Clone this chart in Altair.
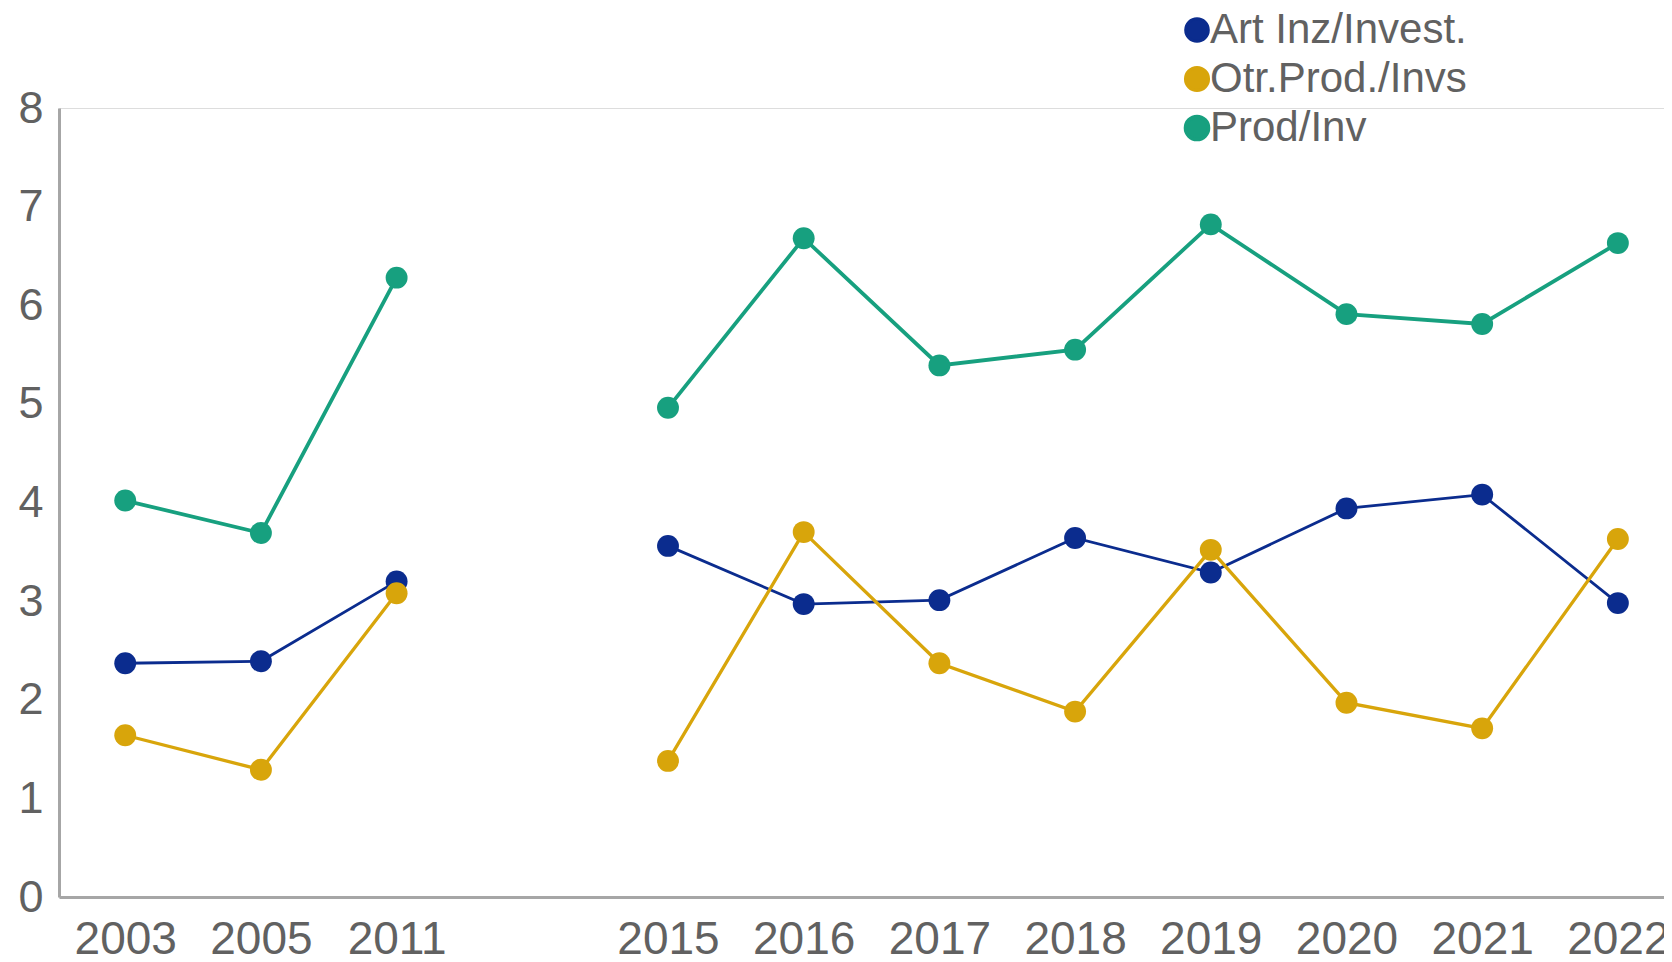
import altair as alt
import pandas as pd

years = ["2003", "2005", "2011", "2015", "2016", "2017", "2018", "2019", "2020", "2021", "2022"]
slots = [0, 1, 2, 4, 5, 6, 7, 8, 9, 10, 11]
segments = [1, 1, 1, 2, 2, 2, 2, 2, 2, 2, 2]

series_names = ["Art Inz/Invest.", "Otr.Prod./Invs", "Prod/Inv"]
art_inz = [2.37, 2.39, 3.20, 3.56, 2.97, 3.01, 3.64, 3.29, 3.94, 4.08, 2.98]
otr_prod = [1.64, 1.29, 3.08, 1.38, 3.70, 2.37, 1.88, 3.52, 1.97, 1.71, 3.63]
prod_inv = [4.02, 3.69, 6.28, 4.96, 6.68, 5.39, 5.55, 6.82, 5.91, 5.81, 6.63]
colors = ["#0b2c8e", "#d8a50b", "#17a07f"]
line_widths = [2.8, 3.8, 3.8]

rows = []
for name, vals in zip(series_names, [art_inz, otr_prod, prod_inv]):
    for y, s, seg, v in zip(years, slots, segments, vals):
        rows.append({"year": y, "slot": s, "segment": seg, "series": name, "value": v})
df = pd.DataFrame(rows)

slot_labels = [""] * 12
for y, s in zip(years, slots):
    slot_labels[s] = y
label_expr = "[" + ",".join("'" + l + "'" for l in slot_labels) + "][datum.value]"

FONT = "Liberation Sans"
GRAY = "#616161"
AXIS_GRAY = "#a6a6a6"

x = alt.X(
    "slot:Q",
    scale=alt.Scale(domain=[-0.488, 11.34], nice=False, zero=False),
    axis=alt.Axis(
        values=slots, labelExpr=label_expr, title=None, grid=False, ticks=False,
        domainColor=AXIS_GRAY, domainWidth=3, labelFontSize=46, labelColor=GRAY,
        labelFont=FONT, labelPadding=20, labelFlush=False, labelOverlap=False,
    ),
)
y = alt.Y(
    "value:Q",
    scale=alt.Scale(domain=[0, 8], nice=False),
    axis=alt.Axis(
        values=list(range(0, 9)), title=None, grid=False, ticks=False,
        domainColor=AXIS_GRAY, domainWidth=3, labelFontSize=45, labelColor=GRAY,
        labelFont=FONT, labelPadding=16,
    ),
)
color = alt.Color(
    "series:N",
    scale=alt.Scale(domain=series_names, range=colors),
    legend=alt.Legend(
        title=None, orient="none", legendX=1117, legendY=-99,
        symbolType="circle", symbolSize=520, symbolStrokeWidth=0,
        labelFontSize=42, labelFont=FONT, labelColor=GRAY,
        labelOffset={"expr": "-8"},
        labelLimit=800, rowPadding=7, padding=0,
    ),
)

base = alt.Chart(df)
lines = base.mark_line().encode(
    x=x, y=y, color=color, detail="segment:N",
    strokeWidth=alt.StrokeWidth(
        "series:N", scale=alt.Scale(domain=series_names, range=line_widths), legend=None
    ),
)
points = base.mark_point(filled=True, size=480, opacity=1).encode(
    x=x, y=y, color=color
)

chart = (
    alt.layer(lines, points)
    .properties(
        width=1605, height=789,
        autosize=alt.AutoSizeParams(type="none"),
        padding={"left": 51, "top": 100, "right": 0, "bottom": 57},
    )
    .configure_view(strokeWidth=0, stroke="transparent", fill="white")
    .configure_axis(grid=False)
    .configure(background="white")
)

chart.save("out.html", embed_options={"renderer": "svg", "actions": False})
